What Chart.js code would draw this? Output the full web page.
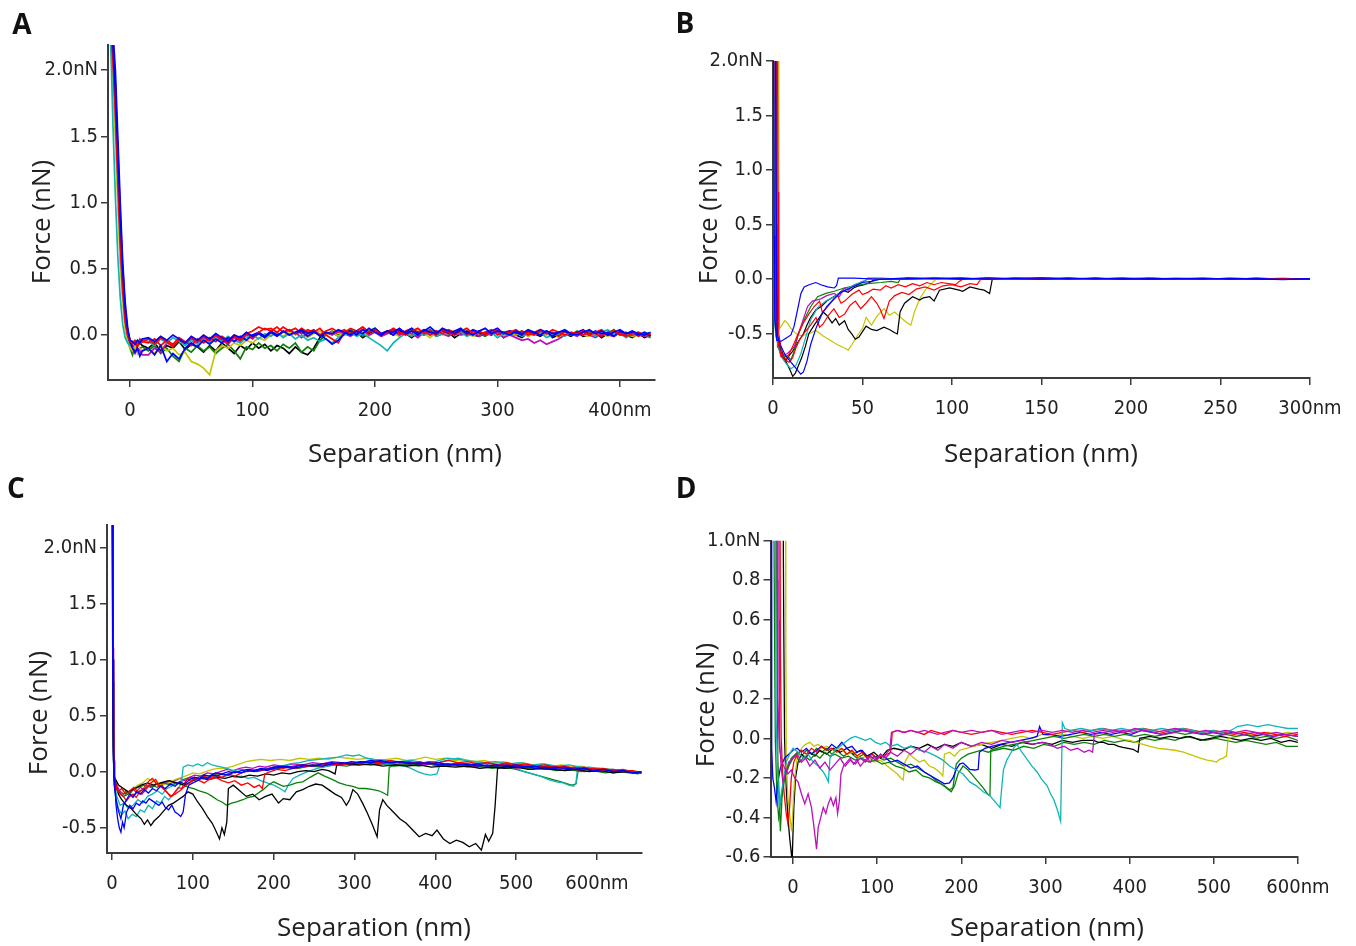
<!DOCTYPE html>
<html><head><meta charset="utf-8">
<script src="https://cdn.jsdelivr.net/npm/chart.js@4.4.1/dist/chart.umd.min.js"></script>
<style>
body{margin:0;background:#fff;width:1356px;height:946px;overflow:hidden;position:relative;font-family:'Open Sans',sans-serif}
canvas{position:absolute}
.t{position:absolute;font-size:26px;color:#222;white-space:nowrap;transform:translate(-50%,-50%)}
.r{transform:translate(-50%,-50%) rotate(-90deg)}
.p{position:absolute;font-size:28px;font-weight:700;color:#111;transform:translate(-50%,-50%)}
</style></head><body>
<canvas id="cA" width="678" height="470" style="left:0;top:0"></canvas>
<canvas id="cB" width="678" height="470" style="left:678px;top:0"></canvas>
<canvas id="cC" width="678" height="476" style="left:0;top:470px"></canvas>
<canvas id="cD" width="678" height="476" style="left:678px;top:470px"></canvas>
<div class="p" style="left:22px;top:23px">A</div>
<div class="p" style="left:685px;top:22px">B</div>
<div class="p" style="left:16px;top:487px">C</div>
<div class="p" style="left:686px;top:487px">D</div>
<div class="t r" style="left:40px;top:222px">Force (nN)</div>
<div class="t" style="left:405px;top:452px">Separation (nm)</div>
<div class="t r" style="left:707px;top:222px">Force (nN)</div>
<div class="t" style="left:1041px;top:452px">Separation (nm)</div>
<div class="t r" style="left:37px;top:713px">Force (nN)</div>
<div class="t" style="left:374px;top:926px">Separation (nm)</div>
<div class="t r" style="left:704px;top:705px">Force (nN)</div>
<div class="t" style="left:1047px;top:926px">Separation (nm)</div>
<script>
// ---------- colours ----------
const BLACK='#000000', RED='#ff0000', GREEN='#0a800a', BLUE='#0000ff', CYAN='#10b4b8', MAGENTA='#bb10bb', YELLOW='#c4c400';

// ---------- panel A (shared separation grid, nm) ----------
const A_sep=[-16,-14,-12,-10,-8,-6,-4,-2,0,2,4,6,8,10,
15,20,25,30,35,40,45,50,55,60,65,70,75,80,85,90,95,100,105,110,
115,120,125,130,135,140,145,150,155,160,165,170,175,180,185,190,195,200,205,210,
215,220,225,230,235,240,245,250,255,260,265,270,275,280,285,290,295,300,305,310,
315,320,325,330,335,340,345,350,355,360,365,370,375,380,385,390,395,400,405,410,415,420,425];
const A_black=[2.4,2.2,1.9,1.35,0.8,0.4,0.15,0.02,-0.05,-0.08,-0.1,-0.07,-0.06,-0.08,
-0.1,-0.06,-0.12,-0.08,-0.1,-0.05,-0.11,-0.07,-0.09,-0.13,
-0.08,-0.12,-0.06,-0.1,-0.14,-0.08,-0.11,-0.06,-0.1,-0.07,
-0.12,-0.08,-0.1,-0.14,-0.09,-0.13,-0.15,-0.1,-0.02,0.01,
0.02,-0.01,0.03,0.0,0.02,-0.02,0.01,0.03,-0.01,0.02,
0.0,0.03,0.01,-0.02,0.02,0.0,0.03,-0.01,0.01,0.02,
-0.02,0.01,0.03,0.0,-0.01,0.02,0.0,0.03,-0.02,0.01,
0.0,-0.02,0.02,0.01,-0.01,0.02,-0.02,0.0,0.01,-0.01,
0.02,-0.01,0.0,0.02,-0.02,0.01,-0.01,0.02,0.0,-0.02,0.01,-0.02,0.0];
const A_green=[2.3,2.05,1.6,1.1,0.6,0.3,0.08,-0.03,-0.1,-0.15,-0.08,-0.12,-0.1,-0.09,
-0.12,-0.08,-0.14,-0.1,-0.16,-0.2,-0.1,-0.13,-0.08,-0.12,
-0.09,-0.14,-0.1,-0.07,-0.12,-0.18,-0.09,-0.11,-0.06,-0.1,
-0.08,-0.12,-0.07,-0.1,-0.06,-0.13,-0.09,-0.12,-0.04,0.0,
0.03,0.0,0.02,0.04,0.01,-0.01,0.03,0.05,0.01,0.02,
0.04,0.0,0.02,0.03,-0.01,0.02,0.04,0.01,0.03,0.0,
0.02,0.04,0.0,0.03,0.01,-0.01,0.02,0.03,0.0,0.02,
0.01,0.03,-0.01,0.02,0.0,0.03,0.01,-0.01,0.02,0.0,
0.03,0.0,0.02,-0.01,0.03,0.01,0.04,0.0,0.02,-0.01,0.02,0.0,-0.02];
const A_yellow=[2.2,1.9,1.5,1.0,0.55,0.25,0.05,-0.05,-0.1,-0.12,-0.08,-0.14,-0.1,-0.12,
-0.1,-0.14,-0.08,-0.12,-0.1,-0.15,-0.13,-0.2,-0.22,-0.25,
-0.3,-0.12,-0.08,-0.1,-0.06,-0.08,-0.04,-0.06,-0.02,-0.04,
0.0,0.02,-0.01,0.03,0.0,0.02,-0.02,0.01,0.03,0.0,
0.02,-0.01,0.03,0.01,0.0,0.02,-0.01,0.03,0.0,0.02,
0.01,-0.01,0.02,0.0,0.03,0.01,-0.02,0.02,0.0,0.01,
0.03,0.0,0.01,-0.01,0.02,0.0,0.03,0.01,-0.01,0.02,
0.0,0.02,-0.01,0.01,0.03,0.0,0.02,-0.02,0.01,0.0,
0.02,0.0,-0.01,0.02,0.01,-0.01,0.02,0.0,0.01,-0.01,0.0,0.01,-0.01];
const A_magenta=[2.3,2.1,1.7,1.2,0.7,0.35,0.12,0.0,-0.06,-0.1,-0.14,-0.1,-0.12,-0.15,
-0.15,-0.1,-0.13,-0.06,-0.08,-0.04,-0.07,-0.03,-0.06,-0.02,
-0.05,-0.01,-0.04,-0.07,-0.02,-0.05,0.0,-0.03,0.01,-0.02,
0.02,-0.01,0.03,0.0,0.02,-0.02,0.01,0.03,0.0,0.02,
0.0,0.03,0.01,-0.01,0.02,0.04,0.0,0.02,-0.01,0.01,
0.03,0.0,0.02,0.01,-0.02,0.02,0.0,0.03,0.01,-0.01,
0.02,0.0,0.01,0.03,-0.01,0.01,0.0,0.02,-0.02,0.0,
-0.02,-0.04,-0.03,-0.06,-0.04,-0.07,-0.05,-0.03,0.0,0.01,
-0.01,0.02,0.0,-0.02,0.01,0.0,-0.01,0.02,-0.01,0.0,0.01,-0.01,0.0];
const A_cyan=[2.3,1.6,1.05,0.6,0.28,0.08,-0.02,-0.06,-0.08,-0.05,-0.07,-0.04,-0.06,-0.03,
-0.05,-0.08,-0.03,-0.06,-0.02,-0.05,-0.08,-0.04,-0.07,-0.03,
-0.06,-0.02,-0.05,-0.01,-0.04,-0.06,-0.02,0.0,-0.03,0.01,
-0.01,0.02,-0.02,0.01,-0.03,0.0,-0.04,-0.02,-0.05,-0.03,
-0.06,-0.02,0.0,0.02,-0.01,0.01,-0.02,-0.05,-0.08,-0.12,
-0.06,-0.02,0.01,-0.01,0.02,0.0,0.03,-0.01,0.01,0.02,
0.0,0.02,-0.01,0.01,0.03,0.0,0.02,-0.02,0.01,0.0,
0.02,-0.01,0.01,0.0,0.02,-0.02,0.0,0.01,-0.01,0.02,
0.0,0.03,0.01,-0.01,0.02,0.04,0.0,0.01,-0.02,0.01,0.0,0.02,0.01];
const A_red=[2.4,2.2,1.8,1.3,0.8,0.45,0.18,0.03,-0.04,-0.07,-0.05,-0.09,-0.06,-0.05,
-0.06,-0.03,-0.08,-0.04,-0.07,-0.02,-0.05,-0.08,-0.03,-0.06,
-0.02,-0.05,-0.01,-0.04,0.0,-0.03,0.01,0.03,0.06,0.04,
0.05,0.02,0.06,0.03,0.05,0.01,0.04,0.02,0.05,0.0,
-0.03,-0.06,0.02,0.05,0.03,0.06,0.02,0.04,0.01,0.03,
0.04,0.01,0.03,0.05,0.02,0.04,0.0,0.03,0.01,0.04,
0.02,0.04,0.0,0.03,0.01,0.02,0.04,0.0,0.02,0.03,
0.01,0.03,0.0,0.02,0.04,0.01,0.02,-0.01,0.03,0.01,
0.02,0.0,0.03,0.01,-0.01,0.02,0.03,0.0,0.01,0.02,-0.01,0.01,0.0];
const A_blue=[2.5,2.3,2.0,1.5,1.0,0.55,0.25,0.06,-0.05,-0.1,-0.13,-0.1,-0.16,-0.12,
-0.1,-0.15,-0.08,-0.2,-0.14,-0.18,-0.1,-0.06,-0.09,-0.04,
-0.07,-0.03,-0.06,-0.02,-0.05,-0.01,-0.04,0.0,0.02,-0.01,
0.03,0.0,0.02,0.04,0.01,0.03,-0.01,0.02,0.0,-0.03,
-0.07,-0.04,0.01,0.03,0.0,0.04,0.02,0.05,0.01,0.03,
0.0,0.04,0.02,0.05,0.01,0.03,0.06,0.02,0.04,0.01,
0.03,0.05,0.01,0.04,0.02,0.0,0.03,0.05,0.01,0.03,
0.02,0.0,0.03,0.01,0.04,0.02,-0.01,0.02,0.03,0.0,
0.02,0.04,0.0,0.03,0.01,0.02,-0.01,0.03,0.01,0.02,0.0,0.02,-0.01];
const A_red2=[2.3,2.1,1.7,1.2,0.7,0.35,0.1,0.0,-0.05,-0.06,-0.04,-0.07,-0.03,-0.05,
-0.03,-0.07,-0.02,-0.05,-0.09,-0.04,-0.06,-0.02,-0.05,-0.01,
-0.04,0.0,-0.03,-0.06,-0.01,-0.04,0.01,-0.02,0.02,0.05,
0.03,0.06,0.02,0.04,0.01,0.05,0.02,0.04,0.0,0.03,
0.05,0.02,0.04,0.01,0.03,0.06,0.02,0.04,0.0,0.02,
0.05,0.02,0.0,0.03,0.05,0.01,0.03,0.0,0.04,0.02,
0.0,0.03,0.05,0.01,0.03,0.0,0.02,0.04,0.01,0.02,
0.04,0.01,0.02,0.0,0.03,0.01,0.04,0.02,0.0,0.02,
0.01,0.03,0.0,0.02,0.04,0.0,0.02,0.01,-0.01,0.01,0.02,0.0,0.01];
const A_blue2=[2.4,2.2,1.85,1.4,0.9,0.5,0.2,0.04,-0.04,-0.05,-0.07,-0.04,-0.06,-0.03,
-0.02,-0.05,-0.01,-0.04,0.0,-0.03,-0.06,-0.01,-0.04,0.0,
-0.03,0.01,-0.02,-0.05,0.0,-0.02,0.02,-0.01,0.01,-0.02,
0.02,-0.01,0.03,0.0,0.02,0.04,0.01,0.03,-0.01,0.02,
0.01,0.04,0.02,0.0,0.03,0.01,0.05,0.02,0.0,0.03,
0.02,0.05,0.01,0.03,0.0,0.04,0.02,0.01,0.05,0.03,
0.01,0.04,0.02,0.0,0.03,0.05,0.01,0.03,0.02,0.0,
0.03,0.01,0.04,0.02,0.0,0.03,0.01,0.02,0.04,0.01,
0.0,0.02,0.04,0.01,0.03,0.0,0.02,0.04,0.01,0.03,0.01,0.0,0.02];
const A_xTicks=[0,100,200,300,400], A_yTicks=[0,0.5,1,1.5,2];

// ---------- panel B ([separation nm, force nN] pairs) ----------
const B_blue1=[[0.3,2.1],[0.6,0.4],[1.0,-0.37],[2.1,-0.56],[4.4,-0.57],[7.2,-0.54],[10,-0.51],[11.8,-0.43],[13.7,-0.28],[15.6,-0.13],[17.4,-0.07],[20.2,-0.05],[23.9,-0.03],[26.7,-0.05],[30.5,-0.07],[34.2,-0.08],[35.5,-0.06],[36.5,0.01]];
const B_blue2=[[1.5,2.1],[1.9,0.3],[2.3,-0.5],[4,-0.6],[7,-0.7],[10,-0.76],[13,-0.82],[15.5,-0.87],[17,-0.85],[19,-0.75],[21,-0.6],[24,-0.45],[27,-0.33],[30,-0.25],[34,-0.18],[38,-0.12],[42,-0.09],[46,-0.06],[50,-0.03],[55,-0.02],[60,0.0]];
const B_magenta=[[1.0,2.1],[1.4,0.5],[1.8,-0.3],[2.5,-0.55],[4.4,-0.71],[8.1,-0.68],[11.8,-0.62],[15.6,-0.43],[19.3,-0.25],[22,-0.2],[26.7,-0.18],[30,-0.15],[34.2,-0.13],[37,-0.16],[39.8,-0.08],[42,-0.1],[45.4,-0.05],[48,-0.04],[52,-0.01],[53,0.01]];
const B_green=[[2.0,2.1],[2.3,0.5],[2.5,-0.62],[4,-0.66],[6.2,-0.71],[8,-0.7],[10,-0.74],[12,-0.65],[13.7,-0.53],[17.4,-0.37],[21.1,-0.25],[24.9,-0.16],[29.5,-0.13],[34.2,-0.11],[39.8,-0.08],[45.4,-0.06],[52.8,-0.04],[60.3,-0.03],[65.9,-0.02],[70,-0.03],[71,0.0]];
const B_cyan=[[0.3,2.1],[0.7,-0.37],[1.5,-0.5],[3.4,-0.65],[5,-0.72],[7.2,-0.77],[10,-0.82],[12.8,-0.79],[15.6,-0.68],[18.3,-0.53],[21.1,-0.37],[24.9,-0.26],[29.5,-0.2],[34.2,-0.16],[39.8,-0.1],[45.4,-0.05],[50,-0.02],[52.8,0.0]];
const B_red1=[[1.8,2.1],[2.0,1.0],[2.3,-0.4],[3,-0.6],[4.5,-0.7],[6,-0.73],[8,-0.72],[10,-0.65],[12,-0.58],[14,-0.5],[17,-0.4],[20,-0.32],[23,-0.25],[26,-0.2],[27.5,-0.3],[29,-0.28],[32,-0.22],[36,-0.15],[38,-0.22],[40,-0.2],[44,-0.14],[48,-0.1],[50,-0.14],[53,-0.12],[56,-0.09],[60,-0.1],[63,-0.06],[66,-0.08],[70,-0.05],[74,-0.07],[78,-0.04],[82,-0.06],[86,-0.03],[90,-0.05],[94,-0.03],[98,-0.04],[102,-0.05],[104,-0.02],[106,0.0]];
const B_red2=[[2.5,2.1],[2.8,0.8],[3.2,-0.5],[5,-0.68],[7,-0.74],[9,-0.76],[11,-0.72],[13,-0.62],[15,-0.55],[18,-0.48],[21,-0.42],[24,-0.35],[26,-0.44],[28,-0.41],[31,-0.33],[34,-0.27],[37,-0.35],[40,-0.32],[43,-0.24],[46,-0.2],[49,-0.27],[52,-0.22],[55,-0.16],[58,-0.22],[60,-0.28],[62,-0.36],[65,-0.2],[68,-0.15],[72,-0.12],[76,-0.14],[80,-0.09],[85,-0.07],[90,-0.1],[95,-0.06],[100,-0.05],[105,-0.07],[110,-0.04],[114,-0.05],[116,0.0]];
const B_yellow=[[3.0,2.1],[3.3,0.6],[3.6,-0.45],[5,-0.42],[6.5,-0.38],[8,-0.4],[10,-0.45],[13,-0.5],[16,-0.52],[20,-0.5],[24,-0.47],[28,-0.52],[32,-0.56],[36,-0.6],[40,-0.63],[42,-0.65],[44,-0.6],[47,-0.52],[50,-0.45],[52,-0.35],[55,-0.42],[58,-0.34],[62,-0.27],[65,-0.33],[68,-0.3],[72,-0.36],[75,-0.4],[77,-0.42],[79,-0.3],[82,-0.18],[85,-0.1],[88,-0.05],[91,0.0]];
const B_black1=[[0.5,2.1],[0.8,0.2],[1.2,-0.4],[2,-0.55],[4,-0.62],[6,-0.7],[8,-0.78],[10,-0.85],[11,-0.89],[12.5,-0.86],[14,-0.8],[16,-0.72],[18,-0.62],[20,-0.5],[23,-0.42],[26,-0.35],[28,-0.3],[30,-0.33],[33,-0.4],[35,-0.36],[37,-0.42],[40,-0.38],[42,-0.46],[44,-0.5],[46,-0.55],[48,-0.53],[50,-0.48],[52,-0.43],[55,-0.46],[58,-0.47],[62,-0.44],[65,-0.46],[68,-0.49],[69.5,-0.5],[71,-0.3],[73.5,-0.22],[78,-0.16],[82,-0.19],[84,-0.17],[87.5,-0.16],[90,-0.2],[93,-0.1],[98.7,-0.08],[104,-0.1],[106,-0.11],[110,-0.07],[115,-0.09],[118,-0.1],[121,-0.13],[122.5,0.0]];
const B_black2=[[1.2,2.1],[1.5,0.4],[2,-0.5],[3,-0.6],[5,-0.7],[7,-0.75],[9,-0.7],[11,-0.66],[13,-0.6],[15,-0.55],[17,-0.5],[19,-0.42],[21,-0.35],[24,-0.28],[27,-0.25],[30,-0.2],[33,-0.17],[36,-0.14],[39,-0.1],[42,-0.12],[45,-0.08],[48,-0.06],[51,-0.05],[54,-0.03],[57,0.0]];
const B_tailSep=[45,60,75,90,105,120,135,150,165,180,195,210,225,240,255,270,285,300];
const B_tail_blue1=[0.01,0.0,0.012,0.005,0.01,0.0,0.008,0.012,0.004,0.01,0.0,0.008,0.006,0.0,0.01,0.004,-0.004,0.006];
const B_tail_blue2=[0.0,0.008,0.004,0.01,0.002,0.012,0.006,0.0,0.01,0.004,0.008,0.0,0.006,0.01,0.002,0.006,0.0,0.004];
const B_tail_magenta=[0.004,0.01,0.0,0.006,0.01,0.002,0.008,0.004,0.0,0.006,0.01,0.002,0.004,0.0,0.006,0.002,-0.002,0.004];
const B_tail_green=[0.006,0.0,0.01,0.004,0.008,0.0,0.006,0.01,0.002,0.008,0.0,0.004,0.008,0.002,0.006,0.0,0.004,0.0];
const B_tail_cyan=[0.008,0.002,0.006,0.0,0.01,0.004,0.0,0.008,0.004,0.0,0.006,0.01,0.002,0.004,0.0,0.006,0.002,0.0];
const B_tail_red1=[0.002,0.008,0.0,0.01,0.004,0.006,0.0,0.01,0.004,0.008,0.002,0.006,0.0,0.008,0.004,0.0,0.006,0.002];
const B_tail_red2=[0.006,0.0,0.008,0.002,0.01,0.004,0.008,0.0,0.006,0.002,0.01,0.004,0.0,0.006,0.002,0.008,0.0,0.004];
const B_tail_yellow=[0.004,0.008,0.002,0.006,0.0,0.01,0.004,0.006,0.0,0.008,0.002,0.006,0.004,0.0,0.008,0.002,0.004,0.0];
const B_tail_black1=[0.01,0.004,0.008,0.0,0.006,0.002,0.01,0.004,0.0,0.008,0.004,0.01,0.002,0.006,0.0,0.004,0.008,0.002];
const B_tail_black2=[0.002,0.006,0.0,0.01,0.004,0.008,0.002,0.006,0.01,0.0,0.006,0.002,0.008,0.004,0.0,0.01,0.002,0.006];
const B_xTicks=[0,50,100,150,200,250,300], B_yTicks=[-0.5,0,0.5,1,1.5,2];

// ---------- panel C ([separation nm, force nN] pairs) ----------
const C_black1=[[0.3,2.5],[0.8,1.0],[1.5,0.2],[2.5,-0.05],[4,-0.1],[8,-0.2],[12,-0.25],[18,-0.3],[24,-0.33],[30,-0.38],[36,-0.42],[40,-0.47],[44,-0.43],[48,-0.48],[52,-0.44],[58,-0.4],[64,-0.35],[70,-0.3],[76,-0.28],[82,-0.25],[88,-0.22],[94,-0.18],[100,-0.2],[106,-0.27],[112,-0.33],[118,-0.4],[124,-0.46],[128,-0.52],[133,-0.6],[136,-0.5],[139,-0.56],[142,-0.45],[144,-0.15],[150,-0.12],[158,-0.17],[166,-0.22],[174,-0.2],[182,-0.25],[190,-0.22],[198,-0.2],[206,-0.28],[212,-0.24],[220,-0.25],[228,-0.18],[236,-0.16],[244,-0.13],[252,-0.11],[260,-0.12],[268,-0.16],[276,-0.2],[284,-0.23],[290,-0.3],[294,-0.25],[298,-0.16],[304,-0.2],[310,-0.28],[316,-0.37],[322,-0.47],[328,-0.58],[331,-0.34],[335,-0.25],[340,-0.3],[348,-0.36],[356,-0.42],[364,-0.46],[372,-0.52],[380,-0.58],[388,-0.55],[396,-0.57],[402,-0.52],[410,-0.6],[418,-0.64],[426,-0.61],[434,-0.63],[442,-0.67],[450,-0.64],[457,-0.7],[462,-0.56],[466,-0.62],[471,-0.55],[474,-0.3],[477,0.03],[490,0.05],[505,0.04],[520,0.05],[535,0.03],[550,0.04],[565,0.02],[580,0.03],[595,0.01],[610,0.02],[625,0.0],[640,0.01],[655,-0.01]];
const C_black2=[[0.6,2.5],[1.2,0.8],[2,0.1],[3,-0.05],[8,-0.12],[14,-0.15],[20,-0.18],[28,-0.15],[36,-0.12],[44,-0.1],[52,-0.12],[60,-0.1],[70,-0.08],[80,-0.1],[90,-0.12],[100,-0.08],[110,-0.06],[120,-0.07],[130,-0.05],[140,-0.06],[150,-0.04],[160,-0.05],[170,-0.03],[180,-0.04],[190,-0.02],[200,-0.03],[210,-0.01],[220,-0.02],[230,0.0],[240,0.01],[250,0.0],[260,0.02],[268,0.01],[276,-0.02],[278,0.06],[290,0.07],[305,0.06],[320,0.07],[335,0.05],[350,0.06],[365,0.05],[380,0.06],[395,0.04],[410,0.05],[425,0.04],[440,0.05],[455,0.03],[470,0.04],[485,0.03],[500,0.04],[515,0.02],[530,0.03],[545,0.02],[560,0.01],[575,0.02],[590,0.0],[605,0.01],[620,-0.01],[635,0.0],[650,-0.01]];
const C_green1=[[0.8,2.5],[1.5,0.8],[2.3,0.0],[3,-0.1],[8,-0.18],[14,-0.22],[20,-0.2],[26,-0.16],[32,-0.14],[40,-0.12],[48,-0.14],[56,-0.11],[64,-0.1],[72,-0.12],[80,-0.1],[88,-0.12],[95,-0.14],[101,-0.15],[108,-0.17],[117,-0.19],[124,-0.22],[130,-0.25],[136,-0.27],[142,-0.3],[148,-0.28],[154,-0.27],[162,-0.25],[168,-0.23],[175,-0.22],[181,-0.19],[187,-0.16],[193,-0.12],[200,-0.09],[206,-0.11],[212,-0.13],[220,-0.12],[228,-0.1],[236,-0.09],[245,-0.05],[255,-0.01],[263,-0.04],[273,-0.07],[281,-0.1],[290,-0.12],[298,-0.13],[306,-0.15],[314,-0.15],[323,-0.16],[330,-0.17],[336,-0.19],[341,-0.21],[343,0.04],[355,0.07],[370,0.06],[385,0.08],[400,0.06],[415,0.07],[430,0.05],[445,0.06],[460,0.04],[475,0.05],[490,0.03],[505,0.04],[520,0.02],[535,0.03],[550,0.01],[565,0.02],[580,0.0],[595,0.01],[610,-0.01],[625,0.0],[640,-0.01],[652,-0.02]];
const C_green2=[[0.5,2.5],[1.2,0.9],[2,0.1],[3,-0.08],[8,-0.16],[14,-0.2],[20,-0.18],[26,-0.22],[32,-0.18],[40,-0.15],[48,-0.12],[56,-0.14],[64,-0.1],[72,-0.08],[80,-0.11],[88,-0.07],[96,-0.05],[104,-0.06],[112,-0.03],[120,-0.04],[130,-0.02],[140,-0.03],[150,0.0],[160,-0.01],[170,0.02],[180,0.01],[190,0.03],[200,0.02],[215,0.04],[230,0.03],[245,0.05],[260,0.04],[275,0.06],[290,0.05],[305,0.07],[320,0.06],[335,0.07],[350,0.05],[365,0.06],[380,0.05],[395,0.07],[410,0.05],[425,0.06],[440,0.04],[455,0.05],[470,0.03],[485,0.04],[500,0.02],[510,0.0],[520,-0.02],[530,-0.04],[540,-0.06],[550,-0.08],[560,-0.1],[568,-0.12],[574,-0.11],[577,0.02],[590,0.03],[605,0.02],[620,0.01],[635,0.0],[650,0.0]];
const C_cyan1=[[0.2,2.5],[0.8,1.0],[1.5,0.2],[2.5,-0.1],[5,-0.25],[8,-0.33],[12,-0.38],[16,-0.35],[20,-0.42],[25,-0.38],[30,-0.4],[35,-0.34],[40,-0.36],[45,-0.3],[50,-0.33],[55,-0.26],[60,-0.28],[65,-0.22],[70,-0.25],[76,-0.2],[82,-0.15],[86,-0.1],[88,0.04],[94,0.06],[100,0.05],[106,0.07],[112,0.05],[118,0.08],[124,0.06],[130,0.05],[136,0.04],[142,0.03],[150,0.01],[160,0.02],[168,0.0],[176,0.02],[184,0.01],[192,0.03],[200,0.04],[210,0.05],[220,0.07],[232,0.08],[244,0.1],[256,0.11],[268,0.12],[280,0.13],[290,0.15],[298,0.14],[306,0.15],[315,0.12],[325,0.11],[340,0.1],[355,0.09],[370,0.1],[385,0.08],[400,0.09],[415,0.12],[430,0.11],[445,0.09],[460,0.08],[475,0.09],[490,0.07],[505,0.08],[520,0.06],[535,0.07],[550,0.05],[565,0.06],[580,0.04],[595,0.03],[610,0.02],[625,0.01],[640,0.0],[652,0.0]];
const C_cyan2=[[0.4,2.5],[1,1.0],[1.8,0.2],[2.8,-0.1],[6,-0.22],[10,-0.3],[15,-0.28],[20,-0.33],[26,-0.3],[32,-0.25],[38,-0.28],[44,-0.22],[50,-0.2],[56,-0.17],[62,-0.2],[68,-0.15],[74,-0.13],[80,-0.1],[88,-0.08],[96,-0.06],[104,-0.07],[112,-0.05],[120,-0.06],[128,-0.04],[136,-0.05],[144,-0.03],[152,-0.05],[160,-0.04],[168,-0.06],[176,-0.05],[184,-0.08],[192,-0.1],[200,-0.12],[208,-0.15],[214,-0.18],[218,-0.12],[224,-0.06],[232,-0.03],[242,0.0],[254,0.03],[266,0.05],[278,0.06],[290,0.08],[302,0.07],[314,0.09],[326,0.08],[338,0.07],[350,0.06],[362,0.05],[370,0.03],[378,0.0],[386,-0.02],[394,-0.03],[402,-0.02],[407,0.09],[415,0.1],[428,0.12],[440,0.1],[452,0.09],[464,0.08],[476,0.07],[488,0.05],[500,0.03],[510,0.0],[520,-0.02],[530,-0.04],[540,-0.07],[550,-0.09],[558,-0.1],[565,-0.12],[571,-0.13],[574,-0.1],[576,0.03],[590,0.04],[605,0.03],[620,0.02],[635,0.01],[650,0.0]];
const C_yellow=[[0.6,2.5],[1.4,1.0],[2.2,0.2],[3,-0.05],[8,-0.12],[14,-0.15],[20,-0.18],[26,-0.15],[32,-0.12],[38,-0.1],[44,-0.06],[50,-0.08],[56,-0.1],[62,-0.12],[70,-0.1],[78,-0.07],[86,-0.05],[94,-0.03],[100,-0.01],[108,-0.02],[116,0.0],[124,0.02],[132,0.03],[140,0.03],[150,0.05],[158,0.07],[166,0.09],[174,0.1],[184,0.11],[196,0.1],[208,0.11],[220,0.1],[232,0.12],[244,0.11],[256,0.12],[268,0.11],[280,0.13],[292,0.12],[304,0.11],[316,0.12],[328,0.1],[340,0.11],[352,0.12],[364,0.1],[376,0.11],[388,0.13],[400,0.11],[412,0.12],[424,0.1],[436,0.11],[448,0.09],[460,0.1],[472,0.08],[484,0.09],[496,0.07],[508,0.08],[520,0.06],[532,0.07],[544,0.05],[556,0.06],[568,0.04],[580,0.05],[592,0.03],[604,0.03],[616,0.02],[628,0.01],[640,0.01],[652,0.0]];
const C_red1=[[0.5,2.5],[1.3,1.1],[2,0.2],[3,-0.08],[6,-0.15],[10,-0.2],[14,-0.22],[18,-0.26],[22,-0.22],[26,-0.2],[30,-0.23],[34,-0.18],[38,-0.16],[42,-0.12],[46,-0.08],[50,-0.06],[54,-0.1],[58,-0.13],[62,-0.12],[66,-0.17],[70,-0.2],[74,-0.22],[78,-0.18],[82,-0.14],[86,-0.15],[90,-0.1],[94,-0.06],[98,-0.09],[102,-0.05],[108,-0.07],[114,-0.04],[120,-0.06],[128,-0.03],[136,-0.05],[144,-0.02],[152,-0.04],[160,-0.01],[170,0.01],[180,0.0],[190,0.02],[200,0.04],[212,0.03],[224,0.05],[236,0.06],[248,0.05],[260,0.07],[272,0.06],[284,0.08],[296,0.07],[308,0.09],[320,0.08],[332,0.07],[344,0.09],[356,0.08],[368,0.07],[380,0.09],[392,0.07],[404,0.08],[416,0.06],[428,0.08],[440,0.07],[452,0.06],[464,0.08],[476,0.06],[488,0.07],[500,0.05],[512,0.06],[524,0.04],[536,0.05],[548,0.04],[560,0.03],[572,0.04],[584,0.02],[596,0.03],[608,0.01],[620,0.02],[632,0.0],[644,0.01],[655,-0.01]];
const C_red2=[[0.9,2.5],[1.7,1.0],[2.6,0.1],[3.5,-0.1],[7,-0.18],[12,-0.15],[17,-0.2],[22,-0.17],[27,-0.14],[32,-0.18],[37,-0.2],[42,-0.16],[48,-0.1],[54,-0.07],[58,-0.12],[63,-0.15],[68,-0.18],[72,-0.22],[78,-0.2],[84,-0.17],[90,-0.13],[96,-0.1],[102,-0.06],[108,-0.08],[114,-0.1],[120,-0.07],[128,-0.05],[136,-0.08],[144,-0.1],[152,-0.08],[160,-0.12],[168,-0.1],[176,-0.14],[182,-0.12],[186,-0.15],[189,-0.02],[196,0.0],[204,0.02],[214,0.01],[224,0.03],[236,0.04],[248,0.06],[260,0.05],[272,0.07],[284,0.06],[296,0.08],[308,0.07],[320,0.09],[332,0.08],[344,0.1],[356,0.08],[368,0.09],[380,0.07],[392,0.09],[404,0.08],[416,0.1],[428,0.08],[440,0.09],[452,0.07],[464,0.08],[476,0.06],[488,0.08],[500,0.06],[512,0.07],[524,0.05],[536,0.06],[548,0.04],[560,0.05],[572,0.03],[584,0.04],[596,0.02],[608,0.03],[620,0.01],[632,0.02],[644,0.0],[655,0.0]];
const C_blue1=[[0.7,2.5],[1.4,1.0],[2.1,0.2],[3,-0.05],[5,-0.3],[7,-0.42],[9,-0.5],[11,-0.54],[13,-0.45],[15,-0.5],[18,-0.36],[22,-0.3],[26,-0.33],[30,-0.28],[34,-0.3],[38,-0.26],[42,-0.28],[46,-0.24],[50,-0.26],[54,-0.28],[58,-0.3],[62,-0.27],[66,-0.32],[70,-0.34],[74,-0.3],[78,-0.36],[82,-0.38],[85,-0.4],[88,-0.36],[91,-0.2],[95,-0.12],[100,-0.1],[106,-0.08],[112,-0.05],[118,-0.06],[124,-0.03],[130,-0.04],[136,-0.02],[144,-0.03],[152,0.0],[160,-0.01],[168,0.01],[176,0.0],[184,0.02],[192,0.01],[200,0.03],[212,0.04],[224,0.03],[236,0.05],[248,0.06],[260,0.05],[272,0.07],[284,0.08],[296,0.07],[308,0.09],[320,0.08],[332,0.1],[344,0.08],[356,0.09],[368,0.07],[380,0.08],[392,0.07],[404,0.08],[416,0.06],[428,0.07],[440,0.06],[452,0.07],[464,0.05],[476,0.06],[488,0.05],[500,0.06],[512,0.04],[524,0.05],[536,0.03],[548,0.04],[560,0.03],[572,0.02],[584,0.03],[596,0.01],[608,0.02],[620,0.0],[632,0.01],[644,-0.01],[655,0.0]];
const C_blue2=[[0.3,2.5],[1,0.9],[1.8,0.1],[2.8,-0.12],[5,-0.25],[8,-0.35],[11,-0.42],[14,-0.3],[18,-0.25],[22,-0.2],[26,-0.23],[30,-0.18],[35,-0.2],[40,-0.16],[45,-0.19],[50,-0.15],[55,-0.17],[60,-0.13],[66,-0.15],[72,-0.11],[78,-0.13],[84,-0.09],[90,-0.11],[96,-0.07],[102,-0.05],[108,-0.06],[114,-0.03],[120,-0.04],[128,-0.01],[136,-0.02],[144,0.0],[152,-0.01],[160,0.01],[168,0.02],[176,0.01],[184,0.03],[192,0.02],[200,0.04],[212,0.05],[224,0.04],[236,0.06],[248,0.05],[260,0.07],[272,0.08],[284,0.07],[296,0.09],[308,0.08],[320,0.1],[332,0.09],[344,0.08],[356,0.09],[368,0.08],[380,0.07],[392,0.08],[404,0.06],[416,0.07],[428,0.06],[440,0.07],[452,0.05],[464,0.06],[476,0.05],[488,0.06],[500,0.04],[512,0.05],[524,0.03],[536,0.04],[548,0.03],[560,0.04],[572,0.02],[584,0.03],[596,0.01],[608,0.02],[620,0.0],[632,0.01],[644,-0.01],[655,-0.01]];
const C_magenta=[[0.5,2.5],[1.2,1.0],[2,0.2],[3,-0.05],[6,-0.12],[10,-0.18],[14,-0.2],[18,-0.17],[22,-0.2],[26,-0.16],[30,-0.18],[35,-0.14],[40,-0.16],[45,-0.12],[50,-0.14],[55,-0.1],[60,-0.12],[66,-0.09],[72,-0.11],[78,-0.08],[84,-0.06],[90,-0.08],[96,-0.05],[102,-0.03],[110,-0.04],[118,-0.01],[126,-0.02],[134,0.0],[142,0.02],[150,0.01],[158,0.03],[166,0.04],[174,0.03],[182,0.05],[190,0.04],[200,0.06],[212,0.05],[224,0.07],[236,0.06],[248,0.08],[260,0.07],[272,0.09],[284,0.08],[296,0.07],[308,0.09],[320,0.08],[332,0.07],[344,0.08],[356,0.06],[368,0.07],[380,0.06],[392,0.07],[404,0.05],[416,0.06],[428,0.05],[440,0.06],[452,0.04],[464,0.05],[476,0.04],[488,0.05],[500,0.03],[512,0.04],[524,0.03],[536,0.02],[548,0.03],[560,0.01],[572,0.02],[584,0.0],[596,0.01],[608,0.0],[620,-0.01],[632,0.0],[644,-0.01],[655,-0.01]];
const C_xTicks=[0,100,200,300,400,500,600], C_yTicks=[-0.5,0,0.5,1,1.5,2];

// ---------- panel D ([separation nm, force nN] pairs) ----------
const D_black=[[-12,1.4],[-11,0.6],[-10,0.0],[-8,-0.25],[-6,-0.4],[-4,-0.5],[-2,-0.58],[-1,-0.62],[1,-0.35],[3,-0.2],[6,-0.12],[10,-0.08],[15,-0.1],[20,-0.07],[26,-0.09],[32,-0.06],[40,-0.08],[48,-0.05],[56,-0.07],[64,-0.05],[72,-0.08],[80,-0.06],[88,-0.09],[96,-0.07],[104,-0.1],[112,-0.06],[120,-0.05],[130,-0.06],[140,-0.04],[150,-0.05],[160,-0.03],[170,-0.05],[180,-0.03],[190,-0.04],[200,-0.02],[212,-0.04],[224,-0.03],[236,-0.05],[248,-0.03],[260,-0.04],[272,-0.02],[284,-0.03],[296,-0.02],[308,-0.03],[320,-0.01],[332,-0.02],[344,-0.01],[357,-0.01],[363,-0.02],[369,-0.02],[375,-0.03],[381,-0.03],[387,-0.04],[392,-0.045],[398,-0.05],[404,-0.055],[410,-0.07],[412,0.0],[424,0.01],[436,0.0],[448,0.01],[460,0.0],[472,0.01],[484,-0.01],[496,0.0],[508,0.01],[520,0.0],[532,-0.01],[544,0.0],[556,-0.01],[568,0.0],[580,-0.02],[590,-0.01],[600,-0.02]];
const D_green1=[[-20,1.4],[-19,0.5],[-18,-0.1],[-16,-0.35],[-15,-0.47],[-13,-0.3],[-10,-0.2],[-6,-0.15],[-2,-0.1],[3,-0.08],[8,-0.12],[14,-0.09],[20,-0.11],[26,-0.08],[32,-0.1],[38,-0.07],[44,-0.09],[50,-0.08],[58,-0.1],[66,-0.09],[74,-0.11],[82,-0.1],[90,-0.12],[98,-0.11],[106,-0.13],[114,-0.12],[122,-0.14],[130,-0.15],[138,-0.17],[146,-0.16],[154,-0.19],[162,-0.2],[170,-0.22],[176,-0.23],[182,-0.25],[188,-0.27],[192,-0.24],[196,-0.18],[202,-0.14],[208,-0.16],[214,-0.19],[220,-0.22],[226,-0.25],[231,-0.28],[234,-0.29],[235,-0.06],[242,-0.05],[250,-0.04],[262,-0.03],[274,-0.02],[286,-0.01],[298,0.0],[310,0.01],[322,0.0],[334,0.01],[346,0.02],[358,0.01],[370,0.02],[382,0.01],[394,0.02],[406,0.01],[418,0.02],[430,0.01],[442,0.02],[454,0.03],[466,0.02],[478,0.03],[490,0.02],[502,0.01],[514,0.02],[526,0.01],[538,0.02],[550,0.0],[562,0.01],[574,0.0],[586,0.01],[600,-0.01]];
const D_green2=[[-23,1.4],[-22,0.6],[-21,0.0],[-19,-0.3],[-17,-0.4],[-14,-0.3],[-10,-0.2],[-5,-0.14],[0,-0.1],[5,-0.07],[10,-0.09],[16,-0.06],[22,-0.08],[28,-0.05],[34,-0.07],[40,-0.05],[46,-0.08],[52,-0.06],[60,-0.09],[68,-0.07],[76,-0.1],[84,-0.08],[92,-0.1],[100,-0.09],[108,-0.11],[116,-0.1],[124,-0.12],[132,-0.14],[140,-0.13],[148,-0.15],[156,-0.17],[164,-0.19],[172,-0.22],[180,-0.24],[186,-0.26],[190,-0.25],[194,-0.13],[200,-0.1],[208,-0.08],[216,-0.07],[224,-0.06],[232,-0.07],[240,-0.06],[250,-0.05],[262,-0.06],[274,-0.04],[286,-0.05],[298,-0.03],[310,-0.04],[322,-0.02],[334,-0.03],[346,-0.02],[358,-0.03],[370,-0.01],[382,-0.02],[394,-0.01],[406,-0.02],[418,0.0],[430,-0.01],[442,0.0],[454,-0.01],[466,0.01],[478,0.0],[490,-0.01],[502,0.0],[514,-0.01],[526,-0.02],[538,-0.01],[550,-0.02],[562,-0.03],[574,-0.02],[586,-0.04],[600,-0.04]];
const D_yellow=[[-9,1.4],[-8.5,0.5],[-8,-0.1],[-6,-0.3],[-3,-0.42],[-1.6,-0.47],[0,-0.35],[2,-0.2],[5,-0.1],[10,-0.05],[15,-0.03],[20,-0.02],[25,-0.04],[30,-0.03],[35,-0.05],[40,-0.04],[48,-0.06],[56,-0.05],[64,-0.08],[72,-0.07],[80,-0.1],[88,-0.09],[96,-0.12],[104,-0.11],[112,-0.14],[118,-0.16],[124,-0.18],[128,-0.2],[131,-0.21],[133,-0.12],[138,-0.08],[144,-0.1],[150,-0.12],[156,-0.11],[162,-0.14],[168,-0.15],[174,-0.17],[178,-0.19],[180,-0.08],[186,-0.07],[192,-0.09],[198,-0.06],[206,-0.05],[214,-0.04],[224,-0.03],[236,-0.02],[248,-0.01],[260,0.0],[272,0.01],[284,0.0],[296,0.02],[308,0.01],[320,0.02],[332,0.01],[344,0.0],[356,0.01],[368,0.0],[380,0.01],[392,-0.005],[400,-0.01],[408,-0.02],[416,-0.03],[424,-0.04],[434,-0.05],[444,-0.055],[454,-0.06],[464,-0.07],[474,-0.085],[484,-0.1],[492,-0.11],[499,-0.115],[503,-0.12],[507,-0.106],[511,-0.1],[515,-0.09],[517,0.0],[528,0.01],[540,0.02],[552,0.01],[564,0.03],[576,0.02],[588,0.03],[600,0.02]];
const D_blue=[[-26,1.4],[-25.5,0.4],[-25,-0.05],[-24,-0.2],[-22,-0.25],[-20,-0.32],[-18,-0.22],[-15,-0.15],[-10,-0.1],[-5,-0.08],[0,-0.06],[5,-0.05],[10,-0.07],[16,-0.05],[22,-0.08],[28,-0.06],[34,-0.04],[40,-0.06],[46,-0.03],[52,-0.05],[58,-0.02],[64,-0.05],[70,-0.04],[76,-0.07],[82,-0.06],[88,-0.09],[94,-0.08],[100,-0.1],[108,-0.09],[116,-0.12],[124,-0.11],[132,-0.13],[140,-0.15],[148,-0.14],[156,-0.17],[164,-0.19],[172,-0.21],[180,-0.23],[186,-0.225],[190,-0.2],[194,-0.157],[198,-0.13],[202,-0.124],[206,-0.14],[210,-0.157],[216,-0.16],[220,-0.157],[221.5,-0.07],[228,-0.05],[236,-0.04],[246,-0.03],[258,-0.02],[270,-0.01],[282,0.0],[290,0.01],[293,0.06],[297,0.02],[306,0.02],[318,0.01],[330,0.02],[342,0.03],[354,0.02],[366,0.03],[378,0.02],[390,0.03],[402,0.02],[414,0.04],[426,0.03],[438,0.02],[450,0.03],[462,0.04],[474,0.03],[486,0.02],[498,0.03],[510,0.02],[522,0.03],[534,0.02],[546,0.01],[558,0.02],[570,0.01],[582,0.02],[600,0.01]];
const D_cyan=[[-21,1.4],[-20.5,0.7],[-20,0.1],[-18,-0.2],[-16,-0.35],[-14,-0.28],[-11,-0.2],[-8,-0.12],[-4,-0.08],[0,-0.05],[6,-0.07],[12,-0.1],[18,-0.08],[24,-0.12],[30,-0.14],[36,-0.17],[40,-0.2],[42,-0.22],[44,-0.1],[50,-0.06],[56,-0.04],[62,-0.02],[68,0.0],[74,0.01],[80,0.0],[86,-0.01],[92,0.0],[98,-0.02],[104,-0.03],[110,-0.02],[116,-0.04],[124,-0.03],[132,-0.05],[140,-0.04],[150,-0.06],[160,-0.07],[170,-0.09],[178,-0.11],[186,-0.14],[194,-0.16],[202,-0.18],[210,-0.22],[218,-0.24],[226,-0.27],[234,-0.29],[240,-0.32],[244,-0.34],[246,-0.35],[248,-0.25],[250,-0.16],[254,-0.11],[258,-0.08],[262,-0.05],[266,-0.03],[272,-0.07],[278,-0.105],[284,-0.14],[290,-0.17],[296,-0.21],[302,-0.24],[306,-0.28],[310,-0.31],[314,-0.36],[318,-0.42],[320,0.08],[323,0.05],[330,0.04],[342,0.05],[354,0.04],[366,0.05],[378,0.04],[390,0.05],[402,0.04],[414,0.05],[426,0.04],[438,0.05],[450,0.04],[462,0.05],[474,0.04],[486,0.03],[498,0.04],[510,0.03],[520,0.04],[528,0.06],[540,0.07],[552,0.06],[564,0.07],[576,0.06],[588,0.05],[600,0.05]];
const D_red=[[-15.5,1.4],[-15,0.5],[-14,0.0],[-12,-0.2],[-10,-0.3],[-8,-0.38],[-6,-0.43],[-4,-0.35],[-2,-0.2],[1,-0.12],[5,-0.08],[10,-0.06],[16,-0.08],[22,-0.05],[28,-0.07],[34,-0.04],[40,-0.06],[46,-0.05],[52,-0.07],[58,-0.05],[64,-0.08],[70,-0.06],[76,-0.09],[82,-0.07],[88,-0.1],[94,-0.08],[100,-0.1],[106,-0.09],[112,-0.08],[116,-0.07],[118,0.03],[124,0.04],[132,0.03],[140,0.04],[148,0.03],[156,0.02],[164,0.04],[172,0.03],[180,0.02],[190,0.04],[200,0.03],[212,0.02],[224,0.03],[236,0.04],[248,0.03],[260,0.02],[272,0.03],[284,0.04],[296,0.03],[308,0.02],[320,0.03],[332,0.04],[344,0.03],[356,0.04],[368,0.05],[380,0.04],[392,0.03],[404,0.04],[416,0.05],[428,0.04],[440,0.03],[452,0.04],[464,0.05],[476,0.04],[488,0.03],[500,0.04],[512,0.03],[524,0.02],[536,0.03],[548,0.02],[560,0.03],[572,0.02],[584,0.01],[600,0.02]];
const D_magenta1=[[-19,1.4],[-18.5,0.8],[-18,0.2],[-16,-0.05],[-13,-0.12],[-10,-0.15],[-6,-0.18],[-2,-0.16],[2,-0.2],[6,-0.22],[10,-0.28],[14,-0.33],[18,-0.28],[22,-0.35],[25,-0.45],[28,-0.56],[30,-0.45],[33,-0.4],[36,-0.35],[39,-0.38],[42,-0.33],[45,-0.3],[48,-0.34],[51,-0.3],[53,-0.38],[55,-0.32],[57,-0.18],[60,-0.14],[64,-0.12],[68,-0.1],[72,-0.13],[76,-0.11],[80,-0.14],[84,-0.12],[88,-0.1],[92,-0.12],[96,-0.09],[100,-0.11],[104,-0.08],[108,-0.1],[112,-0.07],[115,-0.06],[117,0.03],[124,0.04],[132,0.03],[140,0.04],[148,0.03],[156,0.04],[164,0.03],[172,0.02],[180,0.03],[190,0.04],[200,0.03],[212,0.04],[224,0.03],[236,0.04],[248,0.02],[260,0.03],[272,0.04],[284,0.03],[296,0.04],[308,0.03],[320,0.04],[332,0.03],[344,0.04],[356,0.03],[368,0.04],[380,0.03],[392,0.04],[404,0.03],[416,0.04],[428,0.03],[440,0.02],[452,0.03],[464,0.04],[476,0.03],[488,0.02],[500,0.03],[512,0.02],[524,0.03],[536,0.02],[548,0.03],[560,0.02],[572,0.01],[584,0.02],[600,0.01]];
const D_magenta2=[[-17,1.4],[-16.5,0.6],[-16,0.0],[-14,-0.15],[-12,-0.22],[-9,-0.18],[-5,-0.12],[0,-0.1],[5,-0.08],[10,-0.12],[15,-0.1],[20,-0.14],[26,-0.11],[32,-0.15],[38,-0.12],[44,-0.16],[50,-0.13],[56,-0.1],[62,-0.14],[68,-0.11],[74,-0.13],[80,-0.1],[86,-0.12],[92,-0.09],[98,-0.11],[104,-0.08],[110,-0.1],[116,-0.07],[124,-0.09],[132,-0.06],[140,-0.08],[148,-0.05],[156,-0.07],[164,-0.04],[172,-0.06],[180,-0.03],[190,-0.05],[200,-0.02],[212,-0.04],[224,-0.02],[236,-0.03],[248,-0.01],[260,-0.02],[272,-0.01],[284,-0.03],[296,-0.02],[305,-0.03],[314,-0.05],[322,-0.04],[330,-0.06],[338,-0.05],[346,-0.07],[352,-0.06],[356,-0.07],[358,0.02],[370,0.03],[382,0.04],[394,0.03],[406,0.05],[418,0.04],[430,0.03],[442,0.04],[454,0.05],[466,0.04],[478,0.03],[490,0.04],[502,0.03],[514,0.04],[526,0.03],[538,0.04],[550,0.03],[562,0.02],[574,0.03],[586,0.02],[600,0.03]];
const D_xTicks=[0,100,200,300,400,500,600], D_yTicks=[-0.6,-0.4,-0.2,0,0.2,0.4,0.6,0.8,1.0];

// ---------- helpers ----------
const AXIS='#3c3c3c', TXT='#222';
const TICKFONT={family:"'DejaVu Sans Condensed','Liberation Sans Narrow','Arial Narrow',sans-serif",size:20};
function gridData(xs, ys){ return xs.map((x,i)=>({x:x,y:ys[i]})); }
function pairData(p){ return p.map(q=>({x:q[0],y:q[1]})); }
function withTail(p, tail){ const last=p[p.length-1][0]; const out=pairData(p);
  B_tailSep.forEach((x,i)=>{ if(x>last) out.push({x:x,y:tail[i]}); }); return out; }
function ds(data,color,w){ return {data:data,borderColor:color,borderWidth:w,pointRadius:0,fill:false,tension:0}; }

function panel(id,o){
  new Chart(document.getElementById(id),{
    type:'line',
    data:{datasets:o.datasets.slice().reverse()},
    options:{
      responsive:false,animation:false,devicePixelRatio:1,
      layout:{padding:{top:o.padTop,right:o.padRight,left:0,bottom:0}},
      plugins:{legend:{display:false},tooltip:{enabled:false}},
      scales:{
        x:{type:'linear',min:o.xmin,max:o.xmax,
          afterBuildTicks:s=>{s.ticks=o.xticks.map(v=>({value:v}));},
          afterFit:s=>{s.height=o.xH;},
          grid:{drawOnChartArea:false,drawTicks:true,tickLength:7,color:AXIS,lineWidth:1.5},
          border:{display:true,color:AXIS,width:2},
          ticks:{autoSkip:false,maxRotation:0,padding:12,color:TXT,font:TICKFONT,callback:v=>o.xfmt(v)}},
        y:{type:'linear',min:o.ymin,max:o.ymax,
          afterBuildTicks:s=>{s.ticks=o.yticks.map(v=>({value:v}));},
          afterFit:s=>{s.width=o.yW;},
          grid:{drawOnChartArea:false,drawTicks:true,tickLength:7,color:AXIS,lineWidth:1.5},
          border:{display:true,color:AXIS,width:2},
          ticks:{autoSkip:false,padding:3,color:TXT,font:TICKFONT,callback:v=>o.yfmt(v)}}
      }
    }
  });
}

// ---------- A ----------
panel('cA',{padTop:45,padRight:23,xH:90,yW:108,xmin:-18,xmax:428.6,ymin:-0.34,ymax:2.19,
  xticks:A_xTicks,yticks:A_yTicks,
  xfmt:v=>v===400?'400nm':String(v), yfmt:v=>v===2?'2.0nN':v.toFixed(1),
  datasets:[ds(gridData(A_sep,A_black),BLACK,1.7),ds(gridData(A_sep,A_green),GREEN,1.7),ds(gridData(A_sep,A_yellow),YELLOW,1.7),
    ds(gridData(A_sep,A_magenta),MAGENTA,1.7),ds(gridData(A_sep,A_cyan),CYAN,1.7),ds(gridData(A_sep,A_red),RED,1.7),
    ds(gridData(A_sep,A_blue),BLUE,1.7),ds(gridData(A_sep,A_red2),RED,1.7),ds(gridData(A_sep,A_blue2),BLUE,1.7)]});

// ---------- B ----------
panel('cB',{padTop:61,padRight:46,xH:92,yW:95,xmin:0,xmax:300,ymin:-0.905,ymax:2.0,
  xticks:B_xTicks,yticks:B_yTicks,
  xfmt:v=>v===300?'300nm':String(v), yfmt:v=>v===2?'2.0nN':v.toFixed(1),
  datasets:[ds(withTail(B_yellow,B_tail_yellow),YELLOW,1.2),ds(withTail(B_black2,B_tail_black2),BLACK,1.2),
    ds(withTail(B_black1,B_tail_black1),BLACK,1.2),ds(withTail(B_green,B_tail_green),GREEN,1.2),
    ds(withTail(B_magenta,B_tail_magenta),MAGENTA,1.2),ds(withTail(B_cyan,B_tail_cyan),CYAN,1.2),
    ds(withTail(B_red2,B_tail_red2),RED,1.2),ds(withTail(B_red1,B_tail_red1),RED,1.2),
    ds(withTail(B_blue2,B_tail_blue2),BLUE,1.2),ds(withTail(B_blue1,B_tail_blue1),BLUE,1.2)]});

// ---------- C ----------
panel('cC',{padTop:55,padRight:36,xH:93,yW:107,xmin:-6.2,xmax:655.7,ymin:-0.725,ymax:2.2,
  xticks:C_xTicks,yticks:C_yTicks,
  xfmt:v=>v===600?'600nm':String(v), yfmt:v=>v===2?'2.0nN':v.toFixed(1),
  datasets:[ds(pairData(C_green2),GREEN,1.3),ds(pairData(C_cyan2),CYAN,1.3),ds(pairData(C_magenta),MAGENTA,1.3),
    ds(pairData(C_yellow),YELLOW,1.3),ds(pairData(C_cyan1),CYAN,1.3),ds(pairData(C_green1),GREEN,1.3),
    ds(pairData(C_black2),BLACK,1.3),ds(pairData(C_black1),BLACK,1.3),ds(pairData(C_red2),RED,1.3),
    ds(pairData(C_red1),RED,1.3),ds(pairData(C_blue2),BLUE,1.3),ds(pairData(C_blue1),BLUE,1.3)]});

// ---------- D ----------
panel('cD',{padTop:70.7,padRight:58,xH:89,yW:92.5,xmin:-26.7,xmax:600,ymin:-0.6,ymax:1.0,
  xticks:D_xTicks,yticks:D_yTicks,
  xfmt:v=>v===600?'600nm':String(v), yfmt:v=>v===1?'1.0nN':v.toFixed(1),
  datasets:[ds(pairData(D_green2),GREEN,1.3),ds(pairData(D_black),BLACK,1.3),ds(pairData(D_yellow),YELLOW,1.3),
    ds(pairData(D_blue),BLUE,1.3),ds(pairData(D_green1),GREEN,1.3),ds(pairData(D_red),RED,1.3),
    ds(pairData(D_cyan),CYAN,1.3),ds(pairData(D_magenta2),MAGENTA,1.3),ds(pairData(D_magenta1),MAGENTA,1.3)]});
</script>
</body></html>
